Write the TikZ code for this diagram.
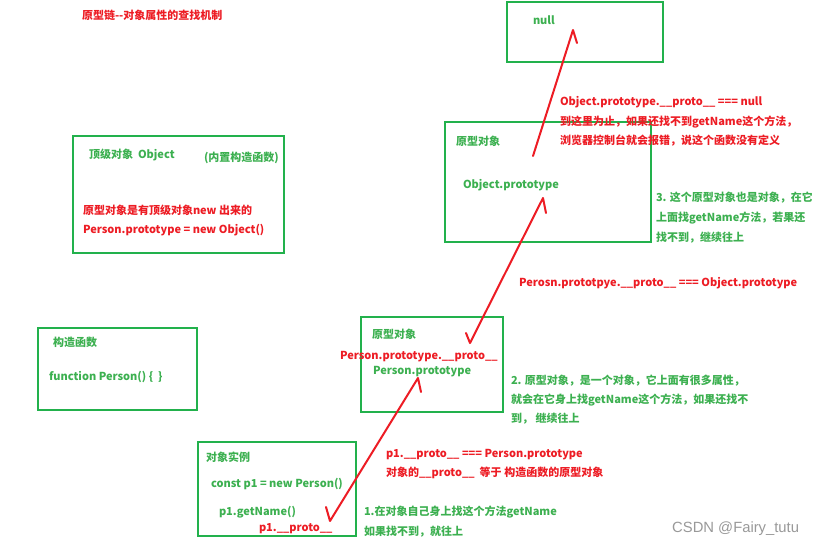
\documentclass[tikz,border=0pt]{standalone}
\usepackage{fontspec}
\setmainfont{Noto Sans CJK SC}
\newfontfamily\wmfont{Liberation Sans}
\definecolor{grn}{HTML}{22B14C}
\definecolor{txtg}{HTML}{3CB050}
\definecolor{rd}{HTML}{ED1C24}
\definecolor{wm}{HTML}{999999}
\tikzset{
  box/.style={draw=grn, line width=2.8pt, anchor=north west, inner sep=0, outer sep=0},
  txt/.style={anchor=base west, inner sep=0, outer sep=0, font=\bfseries\fontsize{11}{13}\selectfont},
  gt/.style={txt, text=txtg},
  rt/.style={txt, text=rd},
  arr/.style={draw=rd, line width=2pt, line join=round, line cap=round}
}
\begin{document}
\begin{tikzpicture}[x=1pt,y=-1pt]
\useasboundingbox[fill=white] (0,0) rectangle (814,544);
% boxes
\node[box, minimum width=156pt, minimum height=60pt] (nullbox) at (507,2) {};
\node[box, minimum width=206pt, minimum height=120pt] (objproto) at (445,122) {};
\node[box, minimum width=211pt, minimum height=117pt] (topobj) at (73,136) {};
\node[box, minimum width=159pt, minimum height=82pt] (ctor) at (38,328) {};
\node[box, minimum width=142pt, minimum height=95pt] (perproto) at (361,317) {};
\node[box, minimum width=158pt, minimum height=94pt] (inst) at (198,442) {};
% texts
\node[rt] (title) at (82,19) {原型链-{}-对象属性的查找机制};
\node[gt] (tnull) at (533,24) {null};
\node[rt] (r1a) at (560,105) {Object.prototype.\_\_proto\_\_ === null};
\node[rt] (r1b) at (560,125) {到这里为止，如果还找不到getName这个方法，};
\node[rt] (r1c) at (560,144) {浏览器控制台就会报错，说这个函数没有定义};
\node[gt] (op1) at (456,145) {原型对象};
\node[gt] (op2) at (463,188) {Object.prototype};
\node[gt] (g3a) at (656,201) {3. 这个原型对象也是对象，在它};
\node[gt] (g3b) at (656,221) {上面找getName方法，若果还};
\node[gt] (g3c) at (656,241) {找不到，继续往上};
\node[gt] (to1) at (89,158) {顶级对象\ \ Object};
\node[gt] (to2) at (204,161) {(内置构造函数)};
\node[rt] (to3) at (83,214) {原型对象是有顶级对象new 出来的};
\node[rt] (to4) at (83,233) {Person.prototype = new Object()};
\node[rt] (rp) at (519,286) {Perosn.prototpye.\_\_proto\_\_ === Object.prototype};
\node[gt] (c1) at (53,346) {构造函数};
\node[gt] (c2) at (49,380) {function Person() \{\ \ \}};
\node[gt] (pp1) at (372,338) {原型对象};
\node[rt] (pp2) at (340,359) {Person.prototype.\_\_proto\_\_};
\node[gt] (pp3) at (373,374) {Person.prototype};
\node[gt] (g2a) at (511,384) {2. 原型对象，是一个对象，它上面有很多属性，};
\node[gt] (g2b) at (511,403) {就会在它身上找getName这个方法，如果还找不};
\node[gt] (g2c) at (511,422) {到，\ 继续往上};
\node[gt] (i1) at (206,461) {对象实例};
\node[gt] (i2) at (211,487) {const p1 = new Person()};
\node[gt] (i3) at (219,515) {p1.getName()};
\node[rt] (i4) at (259,531) {p1.\_\_proto\_\_};
\node[rt] (r2a) at (386,457) {p1.\_\_proto\_\_ === Person.prototype};
\node[rt] (r2b) at (386,476) {对象的\_\_proto\_\_\ \ 等于 构造函数的原型对象};
\node[gt] (g1a) at (364,515) {1.在对象自己身上找这个方法getName};
\node[gt] (g1b) at (364,535) {如果找不到，就往上};
\node[anchor=base west, inner sep=0, text=wm, font=\wmfont\fontsize{14.8}{16}\selectfont] (wmk) at (672,532) {CSDN @Fairy\_tutu};
% arrows (hand drawn)
\coordinate (a1s) at (326,507);
\coordinate (a1b) at (330,521);
\coordinate (a1t) at (418,378);
\coordinate (a1e) at (421,392);
\coordinate (a2s) at (466,333);
\coordinate (a2b) at (470,343);
\coordinate (a2t) at (543,198);
\coordinate (a2e) at (546,213);
\coordinate (a3b) at (533,156);
\coordinate (a3t) at (573,30);
\coordinate (a3e) at (577,43);
\draw[arr] (a1s) -- (a1b) -- (a1t) -- (a1e);
\draw[arr] (a2s) -- (a2b) -- (a2t) -- (a2e);
\draw[arr] (a3b) -- (a3t) -- (a3e);
\end{tikzpicture}
\end{document}
